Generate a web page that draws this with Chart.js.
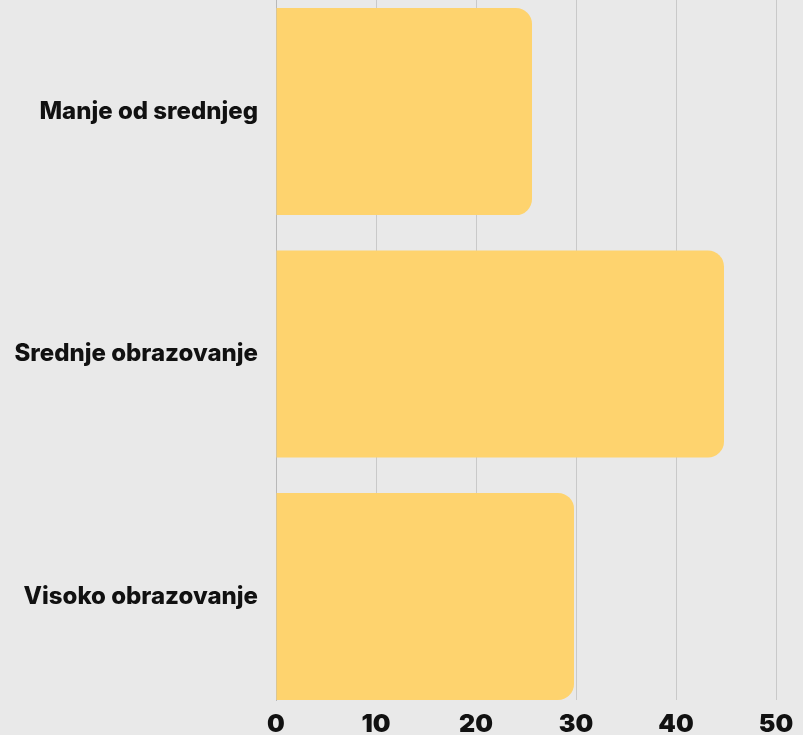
<!DOCTYPE html>
<html>
<head>
<meta charset="utf-8">
<script src="https://cdn.jsdelivr.net/npm/chart.js@4/dist/chart.umd.min.js"></script>
<style>
  html, body { margin: 0; padding: 0; background: #e9e9e9; }
  #wrap { width: 803px; height: 735px; }
</style>
</head>
<body>
<div id="wrap"><canvas id="c" width="803" height="735"></canvas></div>
<script>
// Education level groups and their shares (%)
const categories = ['Manje od srednjeg', 'Srednje obrazovanje', 'Visoko obrazovanje'];
const values = [25.6, 44.8, 29.8];
const xTicks = [0, 10, 20, 30, 40, 50];

const barColor = '#fed36e';
const gridColor = '#c9c9c9';
const fontFamily = 'Inter, "Open Sans", sans-serif';

new Chart(document.getElementById('c'), {
  type: 'bar',
  data: {
    datasets: [{
      data: values.map((v, i) => ({ x: v, y: i })),
      backgroundColor: barColor,
      borderWidth: 0,
      borderRadius: 16,
      borderSkipped: 'start',
      categoryPercentage: 1,
      barPercentage: 0.854
    }]
  },
  options: {
    indexAxis: 'y',
    responsive: false,
    animation: false,
    layout: { padding: { top: 0, right: 27, bottom: 0, left: 0 } },
    plugins: { legend: { display: false }, tooltip: { enabled: false } },
    scales: {
      x: {
        type: 'linear',
        min: xTicks[0],
        max: xTicks[xTicks.length - 1],
        afterBuildTicks: s => { s.ticks = xTicks.map(v => ({ value: v })); },
        afterFit: s => { s.height = 35; s.paddingLeft = 0; s.paddingRight = 0; },
        grid: { color: gridColor, lineWidth: 1, drawTicks: false },
        border: { display: false },
        ticks: {
          padding: 9,
          color: '#111',
          font: { family: fontFamily, size: 25, weight: '900' }
        }
      },
      y: {
        type: 'linear',
        reverse: true,
        offset: false,
        min: -0.46,
        max: 2.427,
        afterBuildTicks: s => { s.ticks = categories.map((_, i) => ({ value: i })); },
        afterFit: s => { s.width = 276; s.paddingTop = 0; s.paddingBottom = 0; },
        grid: { display: false, drawTicks: false, offset: false },
        border: { display: true, color: '#b8b8b8', width: 1 },
        ticks: {
          padding: 18,
          color: '#111',
          callback: v => categories[v],
          font: { family: fontFamily, size: 24, weight: '800' }
        }
      }
    }
  }
});
</script>
</body>
</html>
